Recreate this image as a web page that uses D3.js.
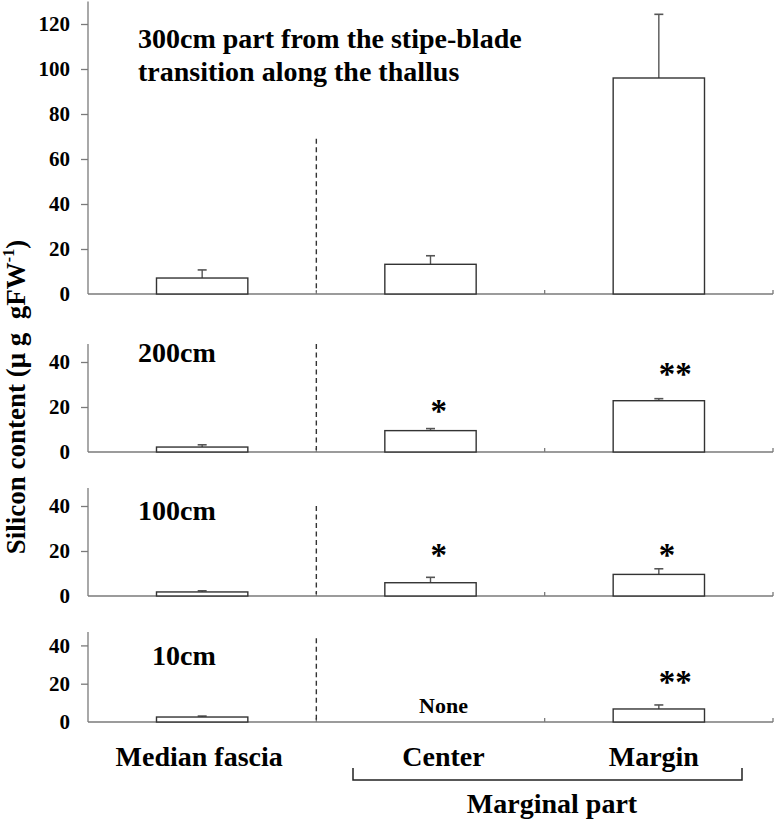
<!DOCTYPE html>
<html>
<head>
<meta charset="utf-8">
<script src="https://cdn.jsdelivr.net/npm/d3@7"></script>
<style>
  html, body { margin: 0; padding: 0; background: #fff; }
  svg { display: block; }
  text { font-family: "Liberation Serif", "Times New Roman", serif; }
</style>
</head>
<body>
<svg id="chart" width="776" height="821"></svg>
<script>
// ---- data ----
const categories = ["Median fascia", "Center", "Margin"];
const panelTitles = [
  ["300cm part from the stipe-blade", "transition along the thallus"],
  ["200cm"], ["100cm"], ["10cm"]
];
const means300 = [7.1, 13.2, 96.0];
const errs300  = [3.6, 3.8, 28.3];
const means200 = [2.2, 9.5, 22.8];
const errs200  = [1.0, 0.9, 0.9];
const means100 = [1.8, 5.9, 9.6];
const errs100  = [0.5, 2.4, 2.5];
const means10  = [2.6, null, 6.8];
const errs10   = [0.5, null, 2.1];
const marks300 = ["", "", ""];
const marks200 = ["", "*", "**"];
const marks100 = ["", "*", "*"];
const marks10  = ["", "None", "**"];
const markLevel200 = [null, 20.4, 36.9];
const markLevel100 = [null, 20.4, 20.4];
const markLevel10  = [null, null, 23.5];
const ticks300 = [0, 20, 40, 60, 80, 100, 120];
const ticksLow = [0, 20, 40];
const dashTop = [69, 48, 40, 43.7];
const yMax = [130, 48, 48, 47];

// ---- layout ----
const svg = d3.select("#chart");
const xLeft = 88, xRight = 773;
const axisColor = "#7a7a7a", barColor = "#333";

const x = d3.scaleBand().domain(categories).range([xLeft, xRight])
  .paddingInner(0.6).paddingOuter(0.3);
const step = x.step();

const panels = [
  {base: 294, top: 1.5, means: means300, errs: errs300, marks: marks300, levels: [null,null,null], ticks: ticks300, titleX: 138, titleY: [48, 81]},
  {base: 452, top: 344, means: means200, errs: errs200, marks: marks200, levels: markLevel200, ticks: ticksLow, titleX: 138, titleY: [362]},
  {base: 596, top: 488, means: means100, errs: errs100, marks: marks100, levels: markLevel100, ticks: ticksLow, titleX: 138, titleY: [520]},
  {base: 722, top: 632, means: means10, errs: errs10, marks: marks10, levels: markLevel10, ticks: ticksLow, titleX: 152, titleY: [665]}
];

panels.forEach((p, i) => {
  const y = d3.scaleLinear().domain([0, yMax[i]]).range([p.base, p.top]);
  const g = svg.append("g");

  // y axis
  const ya = g.append("g").attr("transform", `translate(${xLeft},0)`)
    .call(d3.axisLeft(y).tickValues(p.ticks).tickSize(7).tickPadding(11).tickFormat(d3.format("d")));
  ya.attr("font-family", null);
  ya.select(".domain").attr("stroke", axisColor).attr("stroke-width", 1.3).attr("d", `M0,${p.base}V${p.top}`);
  ya.selectAll(".tick line").attr("stroke", axisColor).attr("stroke-width", 1.3)
    .filter(d => d === 0).remove();
  ya.selectAll(".tick text").attr("fill", "#000").attr("font-size", 21).attr("font-weight", "bold");

  // x axis
  const xa = g.append("g").attr("transform", `translate(0,${p.base})`)
    .call(d3.axisBottom(x).tickSize(0).tickFormat(""));
  xa.select(".domain").attr("stroke", axisColor).attr("stroke-width", 1.3).attr("d", `M${xLeft},0H${xRight}`);
  xa.selectAll(".tick").remove();
  categories.forEach((c, k) => {
    const bx = x(c) - x.paddingOuter() * step + step;
    xa.append("line").attr("x1", bx).attr("x2", bx).attr("y1", 0).attr("y2", -4)
      .attr("stroke", axisColor).attr("stroke-width", 1.3);
  });

  // dashed separator
  const sepX = xLeft + step;
  g.append("line").attr("x1", sepX).attr("x2", sepX)
    .attr("y1", y(dashTop[i])).attr("y2", p.base - 2)
    .attr("stroke", "#333").attr("stroke-width", 1.4).attr("stroke-dasharray", "5,3.5");

  // bars
  categories.forEach((c, k) => {
    const m = p.means[k];
    if (m == null) return;
    const cx = x(c) + x.bandwidth() / 2;
    const e = p.errs[k];
    g.append("line").attr("x1", cx).attr("x2", cx).attr("y1", y(m)).attr("y2", y(m + e))
      .attr("stroke", "#555").attr("stroke-width", 1.4);
    g.append("line").attr("x1", cx - 4.5).attr("x2", cx + 4.5).attr("y1", y(m + e)).attr("y2", y(m + e))
      .attr("stroke", "#555").attr("stroke-width", 1.6);
    g.append("rect").attr("x", x(c)).attr("y", y(m))
      .attr("width", x.bandwidth()).attr("height", y(0) - y(m))
      .attr("fill", "#fff").attr("stroke", barColor).attr("stroke-width", 1.4);
  });

  // significance marks
  categories.forEach((c, k) => {
    const t = p.marks[k];
    if (!t) return;
    const cx = x(c) + x.bandwidth() / 2;
    if (t === "None") {
      g.append("text").attr("x", cx + 13).attr("y", p.base - 9)
        .attr("text-anchor", "middle").attr("font-size", 22).attr("font-weight", "bold").text(t);
    } else {
      g.append("text").attr("x", cx).attr("y", y(p.levels[k]) + 16)
        .attr("text-anchor", "start").attr("font-size", 33).attr("font-weight", "bold").text(t);
    }
  });

  // title
  panelTitles[i].forEach((line, j) => {
    g.append("text").attr("x", p.titleX).attr("y", p.titleY[j])
      .attr("font-size", 28).attr("font-weight", "bold").text(line);
  });
});

// x category labels
const labelOffsets = [0, 16, -2];
categories.forEach((c, k) => {
  svg.append("text").attr("x", x(c) + x.bandwidth() / 2 - 3 + labelOffsets[k]).attr("y", 766)
    .attr("text-anchor", "middle").attr("font-size", 28).attr("font-weight", "bold").text(c);
});

// bracket for marginal part
svg.append("path").attr("d", "M353,768V780H742V768").attr("fill", "none")
  .attr("stroke", "#222").attr("stroke-width", 1.5);
svg.append("text").attr("x", 552).attr("y", 813).attr("text-anchor", "middle")
  .attr("font-size", 28).attr("font-weight", "bold").text("Marginal part");

// y axis title
const yt = svg.append("text").attr("transform", "translate(25,397) rotate(-90)")
  .attr("text-anchor", "middle").attr("font-size", 27).attr("font-weight", "bold")
  .style("white-space", "pre");
yt.append("tspan").text("Silicon content (\u03bc g  gFW");
yt.append("tspan").attr("font-size", 16).attr("dy", -11).text("-1");
yt.append("tspan").attr("dy", 11).text(")");
</script>
</body>
</html>
